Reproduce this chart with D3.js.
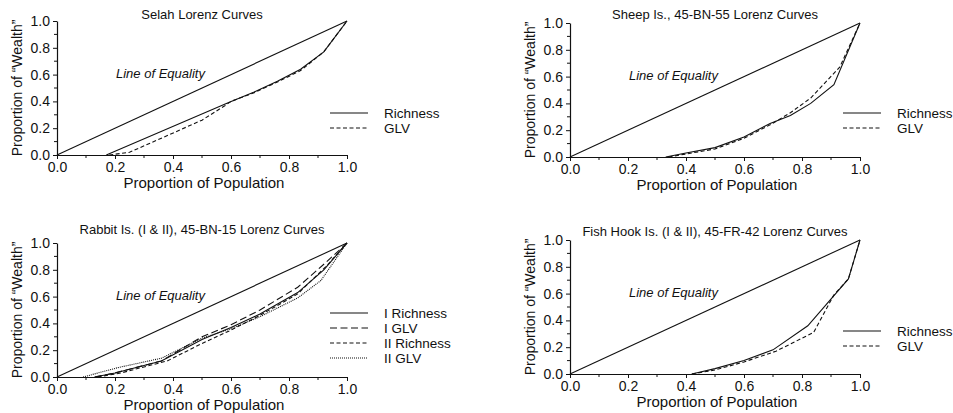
<!DOCTYPE html>
<html>
<head>
<meta charset="utf-8">
<script src="https://cdn.jsdelivr.net/npm/d3@7"></script>
<style>
  html, body { margin: 0; padding: 0; background: #fff; }
  svg { display: block; font-family: Arial, "Liberation Sans", sans-serif; }
</style>
</head>
<body>
<svg id="chart" width="953" height="413"></svg>
<script>
'use strict';

// ── Data (proportion of population, proportion of "wealth") ──
const equality = [[0, 0], [1, 1]];

const selahRichness = [[0.17, 0], [0.59, 0.39], [0.68, 0.47], [0.76, 0.55], [0.84, 0.64], [0.92, 0.77], [1, 1]];
const selahGLV      = [[0.18, 0], [0.25, 0.02], [0.50, 0.26], [0.58, 0.37], [0.60, 0.40], [0.68, 0.465], [0.76, 0.545], [0.84, 0.63], [0.92, 0.77], [1, 1]];

const sheepRichness = [[0.33, 0], [0.40, 0.03], [0.50, 0.07], [0.60, 0.15], [0.69, 0.25], [0.76, 0.31], [0.83, 0.40], [0.91, 0.54], [1, 1]];
const sheepGLV      = [[0.34, 0], [0.50, 0.06], [0.60, 0.14], [0.69, 0.24], [0.76, 0.33], [0.83, 0.44], [0.93, 0.67], [1, 1]];

const rabbitIRichness  = [[0.13, 0], [0.20, 0.03], [0.36, 0.12], [0.50, 0.28], [0.60, 0.37], [0.70, 0.47], [0.83, 0.63], [0.92, 0.80], [1, 1]];
const rabbitIGLV       = [[0.13, 0], [0.20, 0.03], [0.36, 0.12], [0.50, 0.30], [0.60, 0.39], [0.70, 0.50], [0.83, 0.67], [0.93, 0.86], [1, 1]];
const rabbitIIRichness = [[0.14, 0], [0.22, 0.03], [0.38, 0.12], [0.50, 0.25], [0.60, 0.35], [0.70, 0.46], [0.83, 0.62], [0.93, 0.83], [1, 1]];
const rabbitIIGLV      = [[0.09, 0], [0.21, 0.07], [0.36, 0.14], [0.50, 0.29], [0.60, 0.36], [0.70, 0.45], [0.83, 0.59], [0.91, 0.72], [1, 1]];

const fishRichness = [[0.42, 0], [0.50, 0.04], [0.60, 0.10], [0.70, 0.18], [0.82, 0.36], [0.96, 0.71], [1, 1]];
const fishGLV      = [[0.42, 0], [0.50, 0.03], [0.60, 0.09], [0.71, 0.17], [0.84, 0.31], [0.91, 0.59], [0.96, 0.71], [1, 1]];

const majorTicks = [0, 0.2, 0.4, 0.6, 0.8, 1.0];
const minorTicks = [0.1, 0.3, 0.5, 0.7, 0.9];

// ── Panel layout ──────────────────────────────────────────
const PW = 290, PH = 134;
const INK = '#111';

const panels = [
  {
    left: 57, top: 21, titleY: 19,
    title: 'Selah Lorenz Curves',
    legendDy: 92,
    series: [
      { name: 'Richness', data: selahRichness, dash: null },
      { name: 'GLV',      data: selahGLV,      dash: '4,2.5' }
    ]
  },
  {
    left: 570, top: 23, titleY: 19,
    title: 'Sheep Is., 45-BN-55 Lorenz Curves',
    legendDy: 90,
    series: [
      { name: 'Richness', data: sheepRichness, dash: null },
      { name: 'GLV',      data: sheepGLV,      dash: '4,2.5' }
    ]
  },
  {
    left: 57, top: 243, titleY: 234,
    title: 'Rabbit Is. (I & II), 45-BN-15 Lorenz Curves',
    legendDy: 70,
    series: [
      { name: 'I Richness',  data: rabbitIRichness,  dash: null },
      { name: 'I GLV',       data: rabbitIGLV,       dash: '7,3.5' },
      { name: 'II Richness', data: rabbitIIRichness, dash: '4,2.5' },
      { name: 'II GLV',      data: rabbitIIGLV,      dash: '1,1' }
    ]
  },
  {
    left: 570, top: 240, titleY: 236,
    title: 'Fish Hook Is. (I & II), 45-FR-42 Lorenz Curves',
    legendDy: 91,
    series: [
      { name: 'Richness', data: fishRichness, dash: null },
      { name: 'GLV',      data: fishGLV,      dash: '4,2.5' }
    ]
  }
];

const svg = d3.select('#chart');
const fmt = d3.format('.1f');

panels.forEach(drawPanel);

function drawPanel(p) {
  const x = d3.scaleLinear().domain([0, 1]).range([p.left, p.left + PW]);
  const y = d3.scaleLinear().domain([0, 1]).range([p.top + PH, p.top]);
  const g = svg.append('g');

  // Title
  g.append('text')
    .attr('x', p.left + PW / 2)
    .attr('y', p.titleY)
    .attr('text-anchor', 'middle')
    .attr('font-size', 13)
    .attr('fill', INK)
    .text(p.title);

  // Axes
  const xAxis = d3.axisBottom(x).tickValues(majorTicks).tickFormat(fmt).tickSize(4).tickSizeOuter(0);
  const yAxis = d3.axisLeft(y).tickValues(majorTicks).tickFormat(fmt).tickSize(4).tickSizeOuter(0);

  const gx = g.append('g').attr('transform', `translate(0,${p.top + PH})`).call(xAxis);
  const gy = g.append('g').attr('transform', `translate(${p.left},0)`).call(yAxis);

  // minor ticks
  gx.selectAll('.minor').data(minorTicks).enter().append('line')
    .attr('x1', d => x(d)).attr('x2', d => x(d))
    .attr('y1', 0).attr('y2', 3)
    .attr('stroke', INK);
  gy.selectAll('.minor').data(minorTicks).enter().append('line')
    .attr('y1', d => y(d)).attr('y2', d => y(d))
    .attr('x1', 0).attr('x2', -3)
    .attr('stroke', INK);

  [gx, gy].forEach(a => {
    a.select('.domain').attr('stroke', INK).attr('stroke-width', 1.2);
    a.selectAll('.tick line').attr('stroke', INK);
    a.selectAll('.tick text')
      .attr('font-size', 14)
      .attr('font-family', 'Arial, "Liberation Sans", sans-serif')
      .attr('fill', INK);
  });
  gx.selectAll('.tick text').attr('dy', '0.93em').attr('y', 4);
  gy.selectAll('.tick text').attr('x', -7);

  // Axis titles
  g.append('text')
    .attr('x', p.left + PW / 2 + 2)
    .attr('y', p.top + PH + 33)
    .attr('text-anchor', 'middle')
    .attr('font-size', 15)
    .attr('fill', INK)
    .text('Proportion of Population');

  g.append('text')
    .attr('transform', `translate(${p.left - 35},${p.top + PH / 2}) rotate(-90)`)
    .attr('text-anchor', 'middle')
    .attr('font-size', 14)
    .attr('fill', INK)
    .text('Proportion of \u201CWealth\u201D');

  const line = d3.line().x(d => x(d[0])).y(d => y(d[1]));

  // Line of equality
  g.append('path')
    .datum(equality)
    .attr('d', line)
    .attr('fill', 'none')
    .attr('stroke', INK)
    .attr('stroke-width', 1.1);

  g.append('text')
    .attr('x', p.left + 59)
    .attr('y', p.top + 57)
    .attr('font-size', 13)
    .attr('font-style', 'italic')
    .attr('fill', INK)
    .text('Line of Equality');

  // Lorenz curves
  p.series.forEach(s => {
    g.append('path')
      .datum(s.data)
      .attr('d', line)
      .attr('fill', 'none')
      .attr('stroke', INK)
      .attr('stroke-width', 1.1)
      .attr('stroke-dasharray', s.dash);
  });

  // Legend
  p.series.forEach((s, i) => {
    const ly = p.top + p.legendDy + i * 15;
    g.append('line')
      .attr('x1', p.left + 273).attr('x2', p.left + 311)
      .attr('y1', ly).attr('y2', ly)
      .attr('stroke', INK)
      .attr('stroke-width', 1.1)
      .attr('stroke-dasharray', s.dash);
    g.append('text')
      .attr('x', p.left + 327)
      .attr('y', ly)
      .attr('dy', '0.36em')
      .attr('font-size', 13.5)
      .attr('fill', INK)
      .text(s.name);
  });
}
</script>
</body>
</html>
